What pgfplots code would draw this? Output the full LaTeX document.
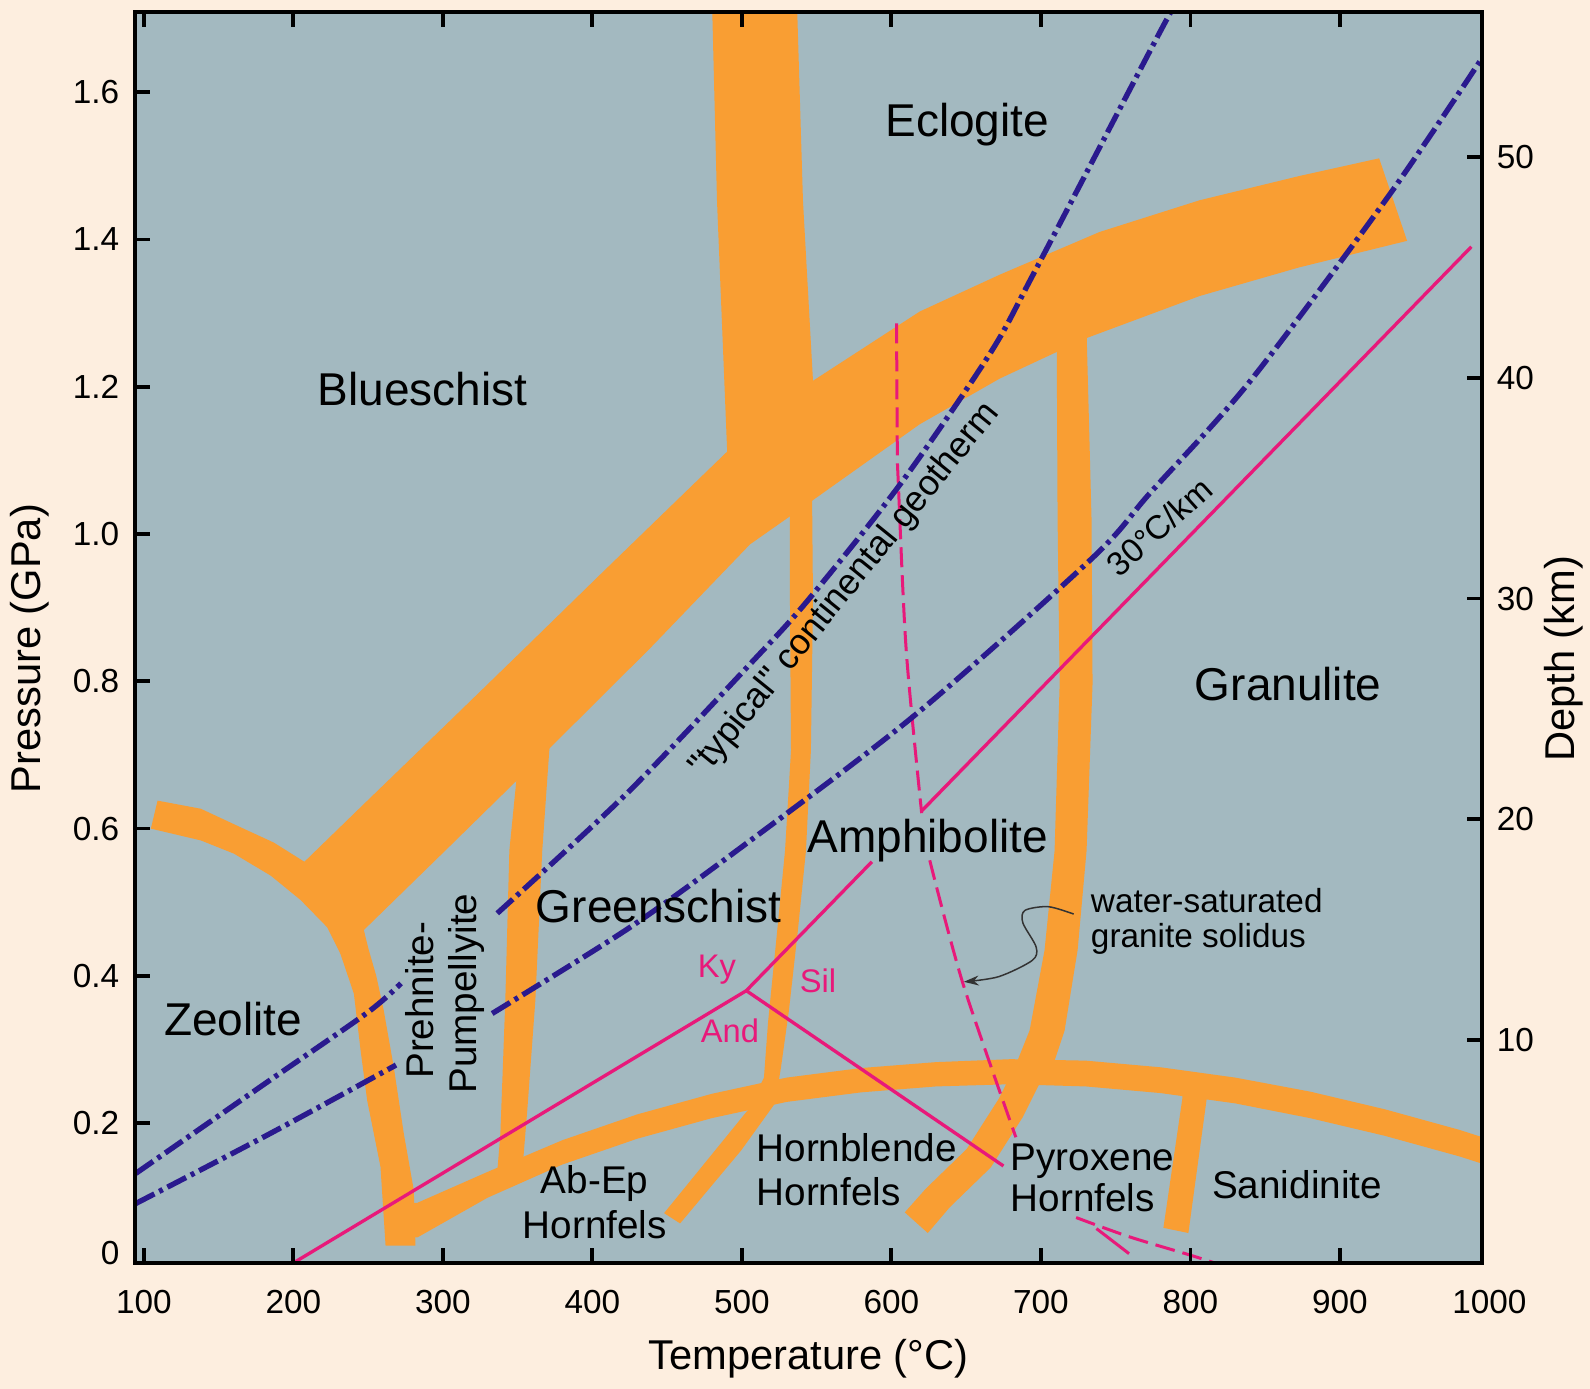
\documentclass[border=0pt]{standalone}
\usepackage{fontspec}
\setmainfont{Liberation Sans}
\newfontfamily\qfont{Liberation Sans}[Ligatures=TeXOff]
\usepackage{pgfplots}
\pgfplotsset{compat=1.18}
\usetikzlibrary{arrows.meta}
\definecolor{pagebg}{HTML}{FDEEDF}
\definecolor{plotbg}{HTML}{A3B9C0}
\definecolor{band}{HTML}{F99E33}
\definecolor{geo}{HTML}{2A1A8E}
\definecolor{pinkline}{HTML}{E8197A}
\tikzset{
  big/.style={font=\fontsize{13.8}{16}\selectfont, inner sep=0pt},
  mid/.style={font=\fontsize{11.6}{13}\selectfont, inner sep=0pt},
  sml/.style={font=\fontsize{10}{12}\selectfont, inner sep=0pt},
  pnk/.style={font=\fontsize{9.8}{11}\selectfont, inner sep=0pt, text=pinkline},
}
\begin{document}
\begin{tikzpicture}
\fill[pagebg] (-40.5pt,-37.8pt) rectangle (436.5pt,378.9pt);
\begin{axis}[
  at={(0pt,0pt)}, anchor=south west,
  scale only axis, width=404.1pt, height=375.3pt,
  xmin=94.1, xmax=995.1, ymin=0.0103, ymax=1.7087,
  clip mode=individual,
  axis background/.style={fill=plotbg},
  axis on top,
  axis line style={line width=1.2pt},
  tick align=inside,
  major tick length=4.5pt,
  tick style={black, line width=1.1pt},
  xtick={100,200,300,400,500,600,700,800,900},
  ytick={0.2,0.4,0.6,0.8,1.0,1.2,1.4,1.6},
  xtick pos=both, ytick pos=left,
  xticklabel pos=lower,
  ticklabel style={font=\fontsize{10}{12}\selectfont},
  /pgf/number format/assume math mode=true,
  yticklabel style={/pgf/number format/fixed, /pgf/number format/fixed zerofill, /pgf/number format/precision=1, xshift=-1.2pt},
  xticklabel style={yshift=-4.5pt},
  xlabel={Temperature (°C)},
  ylabel={Pressure (GPa)},
  label style={font=\fontsize{12.5}{14}\selectfont},
  xlabel style={at={(axis description cs:0.5,0)}, anchor=center, yshift=-28.8pt},
  ylabel style={at={(axis description cs:0,0.491)}, anchor=center, yshift=31.5pt},
]
% ---- orange bands ----
% Zeolite boundary
\addplot[fill=band, draw=none] coordinates {(109.2,0.638) (138.1,0.627) (160.3,0.606) (187,0.581) (208.2,0.554) (231.6,0.509) (247.2,0.462) (250.5,0.435) (255.5,0.400) (260.5,0.353) (267.2,0.276) (273.9,0.186) (280.6,0.109) (281.7,0.034) (261.7,0.034) (258.3,0.141) (249.4,0.231) (245.0,0.299) (240.5,0.376) (231.5,0.430) (222.7,0.466) (204.9,0.503) (185,0.536) (160.3,0.566) (138.1,0.584) (104.7,0.600)};
% Blueschist lower boundary
\addplot[fill=band, draw=none] coordinates {(206.9,0.554) (247,0.633) (305.1,0.747) (351.8,0.839) (405.3,0.945) (458.7,1.050) (490.8,1.113) (547.6,1.208) (619,1.302) (672.5,1.352) (739.3,1.410) (806.1,1.453) (872.9,1.486) (926.3,1.510) (945,1.398) (872.9,1.362) (806.1,1.323) (730.6,1.266) (672.5,1.211) (619,1.149) (546.9,1.045) (532.2,1.024) (505.5,0.986) (438.7,0.845) (369.9,0.706) (305.1,0.577) (247,0.462)};
% Eclogite boundary
\addplot[fill=band, draw=none] coordinates {(480.1,1.72) (536.9,1.72) (540.9,1.452) (547.6,1.208) (549.6,1.085) (492.1,1.018) (490.1,1.117) (483.4,1.452)};
% Greenschist / Amphibolite
\addplot[fill=band, draw=none] coordinates {(546.9,1.072) (547.6,0.909) (546.2,0.706) (542.9,0.570) (537.5,0.462) (531.5,0.353) (526.2,0.276) (522.2,0.227) (499.5,0.163) (458.7,0.064) (448.0,0.078) (504.1,0.218) (514.8,0.262) (517.5,0.336) (523.5,0.458) (528.9,0.570) (532.9,0.706) (532.2,0.909) (532.2,1.045)};
% Prehnite-Pumpellyite / Greenschist
\addplot[fill=band, draw=none] coordinates {(371.9,0.726) (366.5,0.570) (361.9,0.367) (356.5,0.218) (353.2,0.136) (336.5,0.136) (338.5,0.186) (341.8,0.367) (344.5,0.570) (350.5,0.692)};
% Amphibolite / Granulite
\addplot[fill=band, draw=none] coordinates {(624.4,0.051) (639.1,0.086) (666.5,0.140) (687.8,0.208) (699.2,0.254) (709.2,0.285) (715.9,0.326) (724.6,0.435) (730.6,0.570) (734.6,0.797) (733.9,1.022) (730.6,1.275) (710.6,1.275) (711.2,1.022) (712.6,0.797) (709.2,0.570) (702.5,0.435) (692.5,0.326) (683.2,0.279) (671.8,0.233) (650.4,0.165) (623.0,0.111) (609.0,0.079)};
% Hornfels boundary
\addplot[fill=band, draw=none] coordinates {(278.4,0.092) (283,0.092) (330,0.134) (380,0.177) (430,0.212) (480,0.240) (530,0.262) (580,0.275) (630,0.283) (680,0.287) (730,0.285) (780,0.276) (830,0.262) (880,0.243) (930,0.219) (980,0.191) (1000,0.178) (1000,0.142) (980,0.155) (930,0.183) (880,0.207) (830,0.227) (780,0.241) (730,0.250) (680,0.253) (630,0.250) (580,0.242) (530,0.229) (480,0.207) (430,0.179) (380,0.144) (330,0.099) (283,0.045) (278.4,0.045)};
% Sanidinite
\addplot[fill=band, draw=none] coordinates {(794.7,0.251) (811.4,0.251) (810.8,0.231) (798.7,0.051) (782.0,0.058) (794.7,0.234)};
% ---- pink lines ----
\addplot[pinkline, line width=1pt] coordinates {(200,0.0103) (503,0.380)};
\addplot[pinkline, line width=1pt] coordinates {(503,0.380) (587,0.555)};
\addplot[pinkline, line width=1pt] coordinates {(620.3,0.624) (988,1.390)};
\addplot[pinkline, line width=1pt] coordinates {(503,0.380) (675,0.142)};
\addplot[pinkline, line width=0.9pt, dash pattern=on 6pt off 2.4pt, smooth] coordinates {(603.5,1.286) (604,1.117) (604.7,1.068) (610,0.841) (620.3,0.621)};
\addplot[pinkline, line width=0.9pt, dash pattern=on 6pt off 2.4pt, smooth] coordinates {(625.7,0.557) (648,0.389) (683.3,0.181)};
\addplot[pinkline, line width=0.9pt, dash pattern=on 6pt off 2.4pt, smooth] coordinates {(723.6,0.072) (759,0.046) (799.9,0.021) (821.4,0.007)};
\addplot[pinkline, line width=0.9pt] coordinates {(737.2,0.057) (759,0.023)};
% ---- geotherms ----
\addplot[geo, line width=1.6pt, dash pattern=on 6.3pt off 1.6pt on 1.2pt off 1.6pt, smooth] coordinates {(94.7,0.132) (182.6,0.256) (249.4,0.350) (272,0.390)};
\addplot[geo, line width=1.6pt, dash pattern=on 6.3pt off 1.6pt on 1.2pt off 1.6pt, smooth] coordinates {(336.4,0.485) (423.2,0.648) (505.8,0.824) (543.8,0.909) (606.1,1.068) (665.7,1.244) (694.8,1.352) (772.8,1.655) (790,1.72)};
\addplot[geo, line width=1.6pt, dash pattern=on 6.3pt off 1.6pt on 1.2pt off 1.6pt, smooth] coordinates {(94.6,0.091) (182.6,0.184) (268.7,0.279)};
\addplot[geo, line width=1.6pt, dash pattern=on 6.3pt off 1.6pt on 1.2pt off 1.6pt, smooth] coordinates {(333,0.349) (425.2,0.466) (505.8,0.584) (616.9,0.756) (734.8,0.968) (772.8,1.055) (839.8,1.207) (933,1.460) (1000,1.661)};
% ---- curly arrow ----
\addplot[black!80, line width=0.45pt, smooth, -{Stealth[length=4.5pt,width=3pt]}] coordinates {(722,0.484) (705,0.494) (689.4,0.489) (688,0.472) (696.9,0.439) (694.2,0.421) (671.8,0.399) (648.5,0.392)};
% ---- labels ----
\node[big, anchor=base] at (axis cs:286.5,1.175) {Blueschist};
\node[big, anchor=base] at (axis cs:650.8,1.540) {Eclogite};
\node[big, anchor=base] at (axis cs:159.8,0.319) {Zeolite};
\node[big, anchor=base] at (axis cs:444.4,0.473) {Greenschist};
\node[big, anchor=base] at (axis cs:624.4,0.568) {Amphibolite};
\node[big, anchor=base] at (axis cs:865.5,0.774) {Granulite};
\node[mid, anchor=base] at (axis cs:401.6,0.105) {Ab-Ep};
\node[mid, anchor=base] at (axis cs:401.6,0.044) {Hornfels};
\node[mid, anchor=base west] at (axis cs:509.5,0.148) {Hornblende};
\node[mid, anchor=base west] at (axis cs:509.5,0.089) {Hornfels};
\node[mid, anchor=base west] at (axis cs:679.5,0.136) {Pyroxene};
\node[mid, anchor=base west] at (axis cs:679.5,0.080) {Hornfels};
\node[mid, anchor=base] at (axis cs:871.4,0.098) {Sanidinite};
\node[mid, anchor=base, rotate=90] at (axis cs:293.7,0.367) {Prehnite-};
\node[mid, anchor=base, rotate=90] at (axis cs:322.4,0.376) {Pumpellyite};
\node[sml, anchor=base west] at (axis cs:733.1,0.4865) {water-saturated};
\node[sml, anchor=base west] at (axis cs:733.1,0.439) {granite solidus};
\node[font=\fontsize{10.7}{12}\selectfont, inner sep=0pt, anchor=base, rotate=51] at (axis cs:574,0.916) {{\qfont"}typical{\qfont"} continental geotherm};
\node[sml, anchor=base, rotate=42] at (axis cs:784.5,0.998) {30°C/km};
\node[pnk, anchor=base] at (axis cs:483.4,0.398) {Ky};
\node[pnk, anchor=base] at (axis cs:551.0,0.378) {Sil};
\node[pnk, anchor=base] at (axis cs:492.1,0.310) {And};
\node[font=\fontsize{10}{12}\selectfont, anchor=east, inner sep=0pt, xshift=-4.5pt] at (axis cs:94.1,0.0239) {0};
\node[font=\fontsize{10}{12}\selectfont, anchor=north, inner sep=0pt, yshift=-7.83pt] at (axis cs:1000,0.0103) {1000};
\end{axis}
\begin{axis}[
  at={(0pt,0pt)}, anchor=south west,
  scale only axis, width=404.1pt, height=375.3pt,
  xmin=94.1, xmax=995.1, ymin=-0.107, ymax=56.58,
  axis x line=none, axis y line*=right,
  axis line style={line width=1.2pt},
  tick align=inside, major tick length=4.5pt,
  tick style={black, line width=1.1pt},
  ytick={10,20,30,40,50},
  ticklabel style={font=\fontsize{10}{12}\selectfont},
  /pgf/number format/assume math mode=true,
  yticklabel style={xshift=0.9pt},
  ylabel={Depth (km)},
  ylabel style={font=\fontsize{12.5}{14}\selectfont, at={(axis description cs:1,0.483)}, anchor=center, yshift=-24.6pt},
]
\end{axis}
\pgfresetboundingbox
\path[use as bounding box] (-40.5pt,-37.8pt) rectangle (436.5pt,378.9pt);
\end{tikzpicture}
\end{document}
